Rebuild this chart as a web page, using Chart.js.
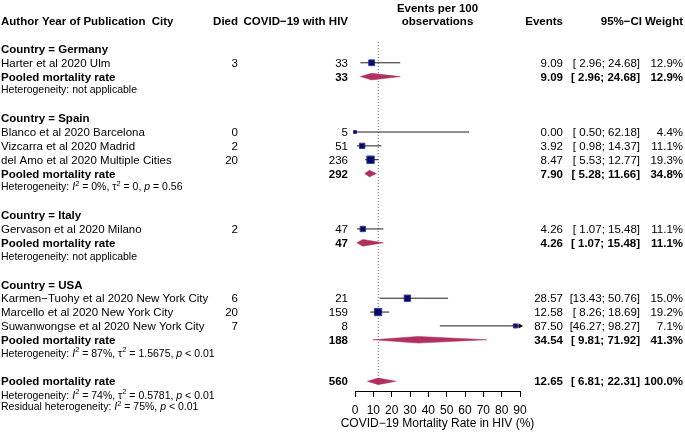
<!DOCTYPE html>
<html>
<head>
<meta charset="utf-8">
<script src="https://cdn.jsdelivr.net/npm/chart.js@4.4.0/dist/chart.umd.min.js"></script>
<style>
  html, body { margin: 0; padding: 0; background: #fff; }
</style>
</head>
<body>
<canvas id="forest" width="685" height="433"></canvas>
<script>
// --- data ---
const countries = ['Germany', 'Spain', 'Italy', 'USA'];
const studies = [
  'Harter et al 2020 Ulm',
  'Blanco et al 2020 Barcelona',
  'Vizcarra et al 2020 Madrid',
  'del Amo et al 2020 Multiple Cities',
  'Gervason et al 2020 Milano',
  'Karmen\u2212Tuohy et al 2020 New York City',
  'Marcello et al 2020 New York City',
  'Suwanwongse et al 2020 New York City'
];
const studyCountry = [0, 1, 1, 1, 2, 3, 3, 3];
const died = [3, 0, 2, 20, 2, 6, 20, 7];
const withHiv = [33, 5, 51, 236, 47, 21, 159, 8];
const rate = [9.09, 0.00, 3.92, 8.47, 4.26, 28.57, 12.58, 87.50];
const rateLower = [2.96, 0.50, 0.98, 5.53, 1.07, 13.43, 8.26, 46.27];
const rateUpper = [24.68, 62.18, 14.37, 12.77, 15.48, 50.76, 18.69, 98.27];
const weight = [12.9, 4.4, 11.1, 19.3, 11.1, 15.0, 19.2, 7.1];

const pooledHiv = [33, 292, 47, 188];
const pooledRate = [9.09, 7.90, 4.26, 34.54];
const pooledLower = [2.96, 5.28, 1.07, 9.81];
const pooledUpper = [24.68, 11.66, 15.48, 71.92];
const pooledWeight = [12.9, 34.8, 11.1, 41.3];
const hetI2 = [null, '0%', null, '87%'];
const hetTau2 = [null, '0', null, '1.5675'];
const hetP = [null, '= 0.56', null, '< 0.01'];

const overallHiv = 560;
const overallRate = 12.65;
const overallLower = 6.81;
const overallUpper = 22.31;
const overallWeight = 100.0;
const overallI2 = '74%';
const overallTau2 = '0.5781';
const overallP = '< 0.01';
const residualI2 = '75%';
const residualP = '< 0.01';

const xTicks = [0, 10, 20, 30, 40, 50, 60, 70, 80, 90];
const xTitle = 'COVID\u221219 Mortality Rate in HIV (%)';

// --- row layout ---
const studyRow = [];
const groupRow = [];
const pooledRow = [];
let row = 0;
countries.forEach((c, g) => {
  groupRow.push(row++);
  studies.forEach((s, i) => { if (studyCountry[i] === g) studyRow[i] = row++; });
  pooledRow.push(row++);
  row += 2; // heterogeneity line + blank
});
const overallRow = row;
const xMax = xTicks[xTicks.length - 1];

const FONT = '"Liberation Sans", Arial, Helvetica, sans-serif';
const navy = '#000080';
const maroon = '#B03060';
const half = 0.24; // diamond half height in rows

const fmt = v => v.toFixed(2);
const pad = v => (v < 10 ? ' ' : '') + v.toFixed(2);
const ci = (lo, hi) => '[' + pad(lo) + '; ' + pad(hi) + ']';
const pct = v => v.toFixed(1) + '%';

function diamond(est, lo, hi, k) {
  return {
    type: 'line',
    data: [
      {x: lo, y: k}, {x: est, y: k - half}, {x: hi, y: k}, {x: est, y: k + half}, {x: lo, y: k}
    ],
    borderColor: maroon,
    backgroundColor: maroon,
    borderWidth: 0.5,
    borderJoinStyle: 'bevel',
    fill: 'shape',
    pointRadius: 0,
    tension: 0
  };
}

const ciLines = studies.map((s, i) => ({
  type: 'line',
  data: [{x: rateLower[i], y: studyRow[i]}, {x: Math.min(rateUpper[i], xMax), y: studyRow[i]}],
  borderColor: '#1e1e1e',
  borderWidth: 1,
  pointRadius: 0
}));

const arrows = {
  type: 'scatter',
  data: studies.map((s, i) => rateUpper[i] > xMax ? {x: xMax, y: studyRow[i]} : null).filter(Boolean),
  pointStyle: 'triangle',
  rotation: 90,
  pointRadius: 3,
  backgroundColor: '#000',
  borderColor: '#000',
  borderWidth: 0,
  clip: false
};

const squares = {
  type: 'scatter',
  data: studies.map((s, i) => ({x: rate[i], y: studyRow[i]})),
  pointStyle: 'rect',
  pointRadius: ctx => (1.9 * Math.sqrt(weight[ctx.dataIndex]) - 1) / Math.SQRT2,
  backgroundColor: navy,
  borderColor: '#3b3ba0',
  borderWidth: 1,
  clip: false
};

const diamonds = countries.map((c, g) => diamond(pooledRate[g], pooledLower[g], pooledUpper[g], pooledRow[g]));
diamonds.push(diamond(overallRate, overallLower, overallUpper, overallRow));

const refLine = {
  type: 'line',
  data: [{x: overallRate, y: -0.5}, {x: overallRate, y: overallRow}],
  borderColor: '#666666',
  borderWidth: 1,
  borderDash: [1, 2],
  pointRadius: 0
};

// --- text columns ---
const colStudy = 1, colDied = 238, colHiv = 348, colEvents = 563, colCI = 640, colWeight = 683;
const SIZE = 11.5;

function put(ctx, text, x, y, align, bold, size) {
  ctx.font = (bold ? 'bold ' : '') + (size || SIZE) + 'px ' + FONT;
  ctx.textAlign = align;
  ctx.fillText(text, x, y);
}

function rich(ctx, x, y, parts) {
  let cx = x;
  ctx.textAlign = 'left';
  parts.forEach(([t, s]) => {
    ctx.font = (s === 'i' ? 'italic ' : '') + (s === 'sup' ? 7.5 : 10.5) + 'px ' + FONT;
    ctx.fillText(t, cx, s === 'sup' ? y - 4 : y);
    cx += ctx.measureText(t).width;
  });
}

function hetParts(label, i2, tau2, p) {
  const parts = [[label + ': ', ''], ['I', 'i'], ['2', 'sup'], [' = ' + i2 + ', ', '']];
  if (tau2 !== null) parts.push(['\u03C4', ''], ['2', 'sup'], [' = ' + tau2 + ', ', '']);
  parts.push(['p', 'i'], [' ' + p, '']);
  return parts;
}

const forestText = {
  id: 'forestText',
  afterDraw(chart) {
    const ctx = chart.ctx;
    const ys = chart.scales.y;
    const xs = chart.scales.x;
    const Y = k => ys.getPixelForValue(k) + 1;
    ctx.save();
    ctx.fillStyle = '#000';
    ctx.textBaseline = 'middle';

    // headers
    put(ctx, 'Author Year of Publication  City', colStudy, Y(-2), 'left', true);
    put(ctx, 'Died', colDied, Y(-2), 'right', true);
    put(ctx, 'COVID\u221219 with HIV', colHiv, Y(-2), 'right', true);
    const mid = (xs.left + xs.right) / 2;
    put(ctx, 'Events per 100', mid, Y(-3), 'center', true);
    put(ctx, 'observations', mid, Y(-2), 'center', true);
    put(ctx, 'Events', colEvents, Y(-2), 'right', true);
    put(ctx, '95%\u2212CI', colCI + 2, Y(-2), 'right', true);
    put(ctx, 'Weight', colWeight, Y(-2), 'right', true);

    countries.forEach((c, g) => {
      put(ctx, 'Country = ' + c, colStudy, Y(groupRow[g]), 'left', true);
      const k = pooledRow[g];
      put(ctx, 'Pooled mortality rate', colStudy, Y(k), 'left', true);
      put(ctx, String(pooledHiv[g]), colHiv, Y(k), 'right', true);
      put(ctx, fmt(pooledRate[g]), colEvents, Y(k), 'right', true);
      put(ctx, ci(pooledLower[g], pooledUpper[g]), colCI, Y(k), 'right', true);
      put(ctx, pct(pooledWeight[g]), colWeight, Y(k), 'right', true);
      const hy = Y(k + 0.93);
      if (hetI2[g] === null) rich(ctx, colStudy, hy, [['Heterogeneity: not applicable', '']]);
      else rich(ctx, colStudy, hy, hetParts('Heterogeneity', hetI2[g], hetTau2[g], hetP[g]));
    });

    studies.forEach((s, i) => {
      const y = Y(studyRow[i]);
      put(ctx, s, colStudy, y, 'left', false);
      put(ctx, String(died[i]), colDied, y, 'right', false);
      put(ctx, String(withHiv[i]), colHiv, y, 'right', false);
      put(ctx, fmt(rate[i]), colEvents, y, 'right', false);
      put(ctx, ci(rateLower[i], rateUpper[i]), colCI, y, 'right', false);
      put(ctx, pct(weight[i]), colWeight, y, 'right', false);
    });

    const ko = overallRow;
    put(ctx, 'Pooled mortality rate', colStudy, Y(ko), 'left', true);
    put(ctx, String(overallHiv), colHiv, Y(ko), 'right', true);
    put(ctx, fmt(overallRate), colEvents, Y(ko), 'right', true);
    put(ctx, ci(overallLower, overallUpper), colCI, Y(ko), 'right', true);
    put(ctx, pct(overallWeight), colWeight, Y(ko), 'right', true);
    rich(ctx, colStudy, Y(ko + 0.97), hetParts('Heterogeneity', overallI2, overallTau2, overallP));
    rich(ctx, colStudy, Y(ko + 1.82), hetParts('Residual heterogeneity', residualI2, null, residualP));

    // axis title
    put(ctx, xTitle, mid, chart.chartArea.bottom + 33, 'center', false, 12);
    ctx.restore();
  }
};

new Chart(document.getElementById('forest'), {
  type: 'scatter',
  data: {
    datasets: [...ciLines, arrows, squares, ...diamonds, refLine]
  },
  options: {
    responsive: false,
    animation: false,
    events: [],
    layout: {
      padding: {left: 355, right: 165, top: 42, bottom: 8}
    },
    plugins: {
      legend: {display: false},
      tooltip: {enabled: false}
    },
    scales: {
      x: {
        type: 'linear',
        min: xTicks[0],
        max: xMax,
        afterBuildTicks: axis => { axis.ticks = xTicks.map(v => ({value: v})); },
        border: {display: true, color: '#000', width: 1},
        grid: {
          display: true,
          drawOnChartArea: false,
          drawTicks: true,
          tickLength: 6,
          color: '#000'
        },
        ticks: {
          color: '#000',
          padding: 8,
          maxRotation: 0,
          autoSkip: false,
          font: {family: FONT, size: 12, lineHeight: 1}
        },
        title: {display: false}
      },
      y: {
        type: 'linear',
        display: false,
        reverse: true,
        min: -0.5,
        max: overallRow + 0.7
      }
    }
  },
  plugins: [forestText]
});
</script>
</body>
</html>
